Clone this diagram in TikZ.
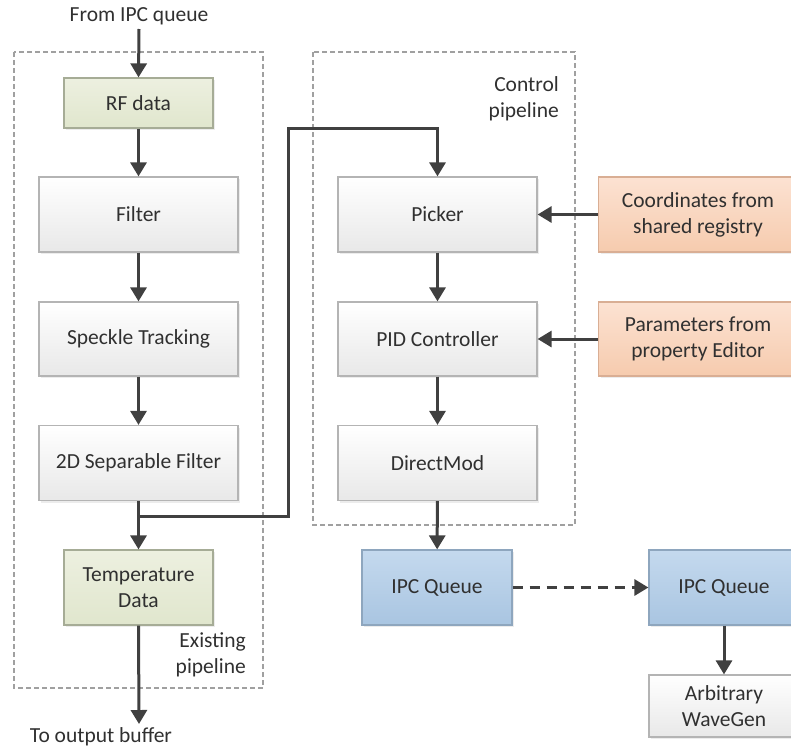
\documentclass[tikz,border=0pt]{standalone}
\usepackage{fontspec}
\setmainfont{Carlito}
\usetikzlibrary{arrows.meta,shadows}
\definecolor{txt}{HTML}{303030}
\definecolor{arr}{HTML}{404040}
\definecolor{grp}{HTML}{A0A0A0}
\definecolor{grnT}{HTML}{EDF0E0}
\definecolor{grnB}{HTML}{E0E6CD}
\definecolor{grnD}{HTML}{A6AC96}
\definecolor{orT}{HTML}{FCE2D2}
\definecolor{orB}{HTML}{F6CBAE}
\definecolor{orD}{HTML}{D9AE94}
\definecolor{blT}{HTML}{C4D9EE}
\definecolor{blB}{HTML}{A9C5E1}
\definecolor{blD}{HTML}{8EA6BE}
\definecolor{gyD}{HTML}{B4B4B4}
\begin{document}
\begin{tikzpicture}[x=1pt,y=-1pt,
  font=\fontsize{21.5}{26}\selectfont, text=txt,
  base/.style={draw, line width=1.2pt, align=center, inner sep=2pt,
    drop shadow={opacity=0.15, shadow xshift=2pt, shadow yshift=-2pt}},
  graybox/.style={base, draw=gyD, top color=white, bottom color=black!9},
  greenbox/.style={base, draw=grnD, top color=grnT, bottom color=grnB},
  orangebox/.style={base, draw=orD, top color=orT, bottom color=orB},
  bluebox/.style={base, draw=blD, top color=blT, bottom color=blB},
  conn/.style={draw=arr, line width=3pt, -{Triangle[length=14pt,width=16pt]}},
  dconn/.style={conn, dash pattern=on 10pt off 7pt},
  groupbox/.style={draw=grp, line width=1.1pt, dash pattern=on 5pt off 3pt},
  lbl/.style={inner sep=0pt, align=center}
]
\useasboundingbox (0,0) rectangle (791,747);
\clip (0,0) rectangle (791,747);

% group frames
\draw[groupbox] (14,52) rectangle (263,688);
\draw[groupbox] (313,52) rectangle (575,525);

% left pipeline
\node[lbl] (from) at (139,16) {From IPC queue};
\node[greenbox, minimum width=149pt, minimum height=50pt] (rf) at (138.5,103) {RF data};
\node[graybox, minimum width=199pt, minimum height=75pt] (filter) at (138.5,214.5) {Filter};
\node[graybox, minimum width=199pt, minimum height=74pt] (speckle) at (138.5,339) {Speckle Tracking};
\node[graybox, minimum width=199pt, minimum height=75pt] (sep) at (138.5,463) {2D Separable Filter};
\node[greenbox, minimum width=149pt, minimum height=75pt] (temp) at (138.5,587.5) {Temperature\\Data};
\node[lbl] (to) at (101,737) {To output buffer};
\node[lbl, align=right, anchor=north east] (exist) at (246,632) {Existing\\pipeline};

% right pipeline
\node[lbl, align=right, anchor=north east] (ctrl) at (559,76) {Control\\pipeline};
\node[graybox, minimum width=199pt, minimum height=75pt] (picker) at (437.5,214.5) {Picker};
\node[graybox, minimum width=199pt, minimum height=74pt] (pid) at (437.5,339) {PID Controller};
\node[graybox, minimum width=199pt, minimum height=75pt] (dmod) at (437.5,463) {DirectMod};
\node[orangebox, minimum width=199pt, minimum height=75pt] (coord) at (698,214.5) {Coordinates from\\shared registry};
\node[orangebox, minimum width=199pt, minimum height=74pt] (param) at (698,339) {Parameters from\\property Editor};
\node[bluebox, minimum width=150pt, minimum height=75pt] (ipc1) at (437,587.5) {IPC Queue};
\node[bluebox, minimum width=150pt, minimum height=75pt] (ipc2) at (724,587.5) {IPC Queue};
\node[graybox, minimum width=150pt, minimum height=62pt] (arb) at (724,706) {Arbitrary\\WaveGen};

\coordinate (br) at (139,516);
\coordinate (turn) at (288,128);
\coordinate (outend) at (139,724);

% connectors
\draw[conn] (from.south |- 0,29) -- (rf.north);
\draw[conn] (rf) -- (filter);
\draw[conn] (filter) -- (speckle);
\draw[conn] (speckle) -- (sep);
\draw[conn] (sep) -- (temp);
\draw[conn] (temp.south) -- (outend);
\draw[conn] (br) -| (turn) -| (picker.north);
\draw[conn] (picker) -- (pid);
\draw[conn] (pid) -- (dmod);
\draw[conn] (dmod) -- (ipc1);
\draw[conn] (coord.west) -- (picker.east);
\draw[conn] (param.west) -- (pid.east);
\draw[dconn] (ipc1.east) -- (ipc2.west);
\draw[conn] (ipc2) -- (arb);
\end{tikzpicture}
\end{document}
